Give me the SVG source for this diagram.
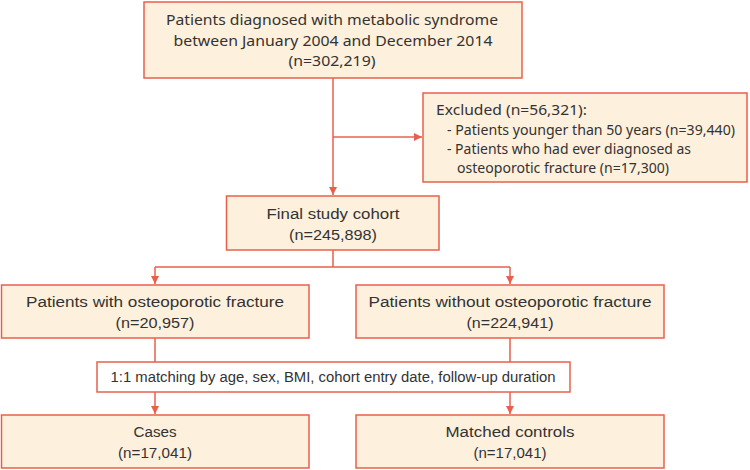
<svg xmlns="http://www.w3.org/2000/svg" width="750" height="470" viewBox="0 0 750 470">
<style>
.box{fill:#fdf0dc;stroke:#e8604c;stroke-width:1.5}
.wbox{fill:#ffffff;stroke:#e8604c;stroke-width:1.5}
.t{font-family:"Noto Sans","Liberation Sans",sans-serif;font-size:15px;fill:#333333}
.n{font-family:"Liberation Sans","Noto Sans",sans-serif;font-size:15.5px;fill:#333333}
.c{text-anchor:middle}
.line{fill:none;stroke:#e8604c;stroke-width:1.5}
</style>
<defs>
<marker id="arr" markerWidth="8" markerHeight="8" refX="8" refY="4" orient="auto" markerUnits="userSpaceOnUse">
<path d="M0,0 L8,4 L0,8 Z" fill="#e8604c"/>
</marker>
</defs>
<rect width="750" height="470" fill="#ffffff"/>
<g id="connectors">
<path class="line" d="M333,78 V195" marker-end="url(#arr)"/>
<path class="line" d="M333,137 H422" marker-end="url(#arr)"/>
<path class="line" d="M333,250 V267 M155,267 H510"/>
<path class="line" d="M155,267 V284" marker-end="url(#arr)"/>
<path class="line" d="M510,267 V284" marker-end="url(#arr)"/>
<path class="line" d="M155,338 V362 M510,338 V362"/>
<path class="line" d="M155,392 V414" marker-end="url(#arr)"/>
<path class="line" d="M510,392 V414" marker-end="url(#arr)"/>
</g>
<g id="n_top">
<rect class="box" x="144" y="2" width="378" height="76"/>
<text class="t c" x="332" y="25" textLength="332" lengthAdjust="spacingAndGlyphs">Patients diagnosed with metabolic syndrome</text>
<text class="t c" x="333" y="46" textLength="319" lengthAdjust="spacingAndGlyphs">between January 2004 and December 2014</text>
<text class="t c" x="332" y="66" textLength="87" lengthAdjust="spacingAndGlyphs">(n=302,219)</text>
</g>
<g id="n_excluded">
<rect class="box" x="423" y="93" width="324" height="89"/>
<text class="t" x="436" y="115" textLength="151" lengthAdjust="spacingAndGlyphs">Excluded (n=56,321):</text>
<text class="t" x="447" y="135" textLength="288" lengthAdjust="spacingAndGlyphs">- Patients younger than 50 years (n=39,440)</text>
<text class="t" x="447" y="154" textLength="244" lengthAdjust="spacingAndGlyphs">- Patients who had ever diagnosed as</text>
<text class="t" x="457" y="173" textLength="212" lengthAdjust="spacingAndGlyphs">osteoporotic fracture (n=17,300)</text>
</g>
<g id="n_final">
<rect class="box" x="226.5" y="196" width="212.5" height="54"/>
<text class="n c" x="333" y="219" textLength="133" lengthAdjust="spacingAndGlyphs">Final study cohort</text>
<text class="n c" x="333" y="240" textLength="88" lengthAdjust="spacingAndGlyphs">(n=245,898)</text>
</g>
<g id="n_with">
<rect class="box" x="1.5" y="285" width="307.5" height="53"/>
<text class="n c" x="155" y="307" textLength="258" lengthAdjust="spacingAndGlyphs">Patients with osteoporotic fracture</text>
<text class="n c" x="155" y="328" textLength="79" lengthAdjust="spacingAndGlyphs">(n=20,957)</text>
</g>
<g id="n_without">
<rect class="box" x="356" y="285" width="308" height="53"/>
<text class="n c" x="510" y="307" textLength="283" lengthAdjust="spacingAndGlyphs">Patients without osteoporotic fracture</text>
<text class="n c" x="510" y="328" textLength="87" lengthAdjust="spacingAndGlyphs">(n=224,941)</text>
</g>
<g id="n_matching">
<rect class="wbox" x="97" y="362" width="473" height="30"/>
<text class="n c" x="333" y="382" textLength="445" lengthAdjust="spacingAndGlyphs">1:1 matching by age, sex, BMI, cohort entry date, follow-up duration</text>
</g>
<g id="n_cases">
<rect class="box" x="1.5" y="415" width="307.5" height="53"/>
<text class="n c" x="155" y="437" textLength="43" lengthAdjust="spacingAndGlyphs">Cases</text>
<text class="n c" x="155" y="458" textLength="74" lengthAdjust="spacingAndGlyphs">(n=17,041)</text>
</g>
<g id="n_controls">
<rect class="box" x="356" y="415" width="308" height="53"/>
<text class="n c" x="510" y="437" textLength="129" lengthAdjust="spacingAndGlyphs">Matched controls</text>
<text class="n c" x="510" y="458" textLength="73" lengthAdjust="spacingAndGlyphs">(n=17,041)</text>
</g>
</svg>
